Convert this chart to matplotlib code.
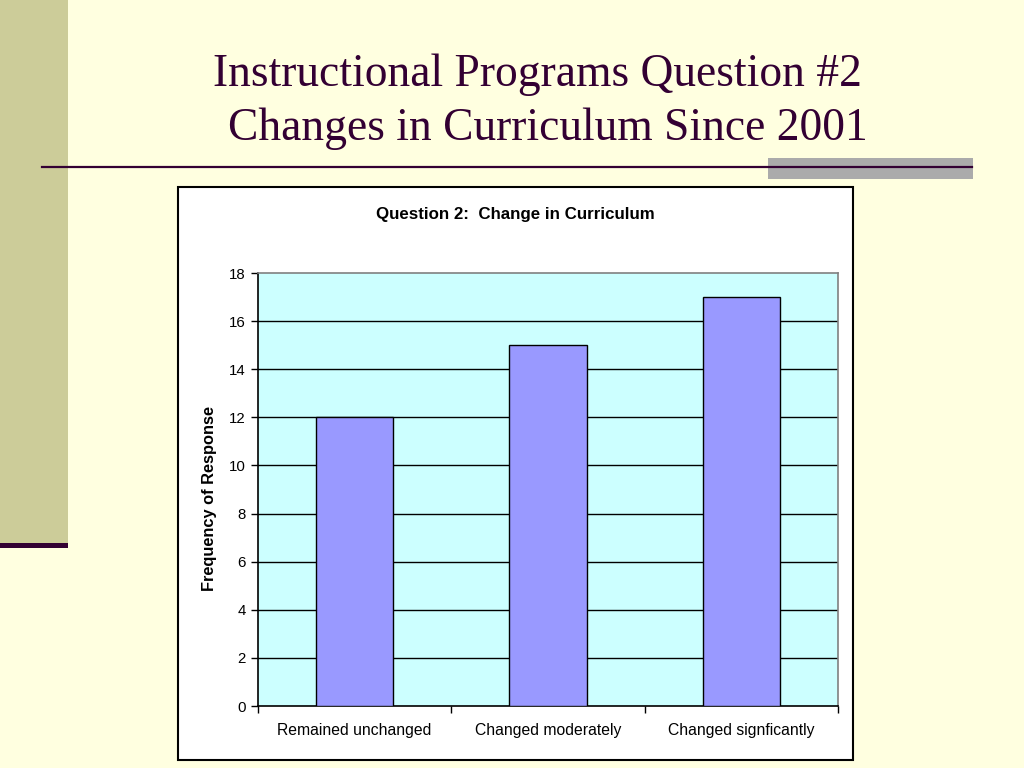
import matplotlib
matplotlib.use("Agg")
import matplotlib.pyplot as plt
from matplotlib.patches import Rectangle
from matplotlib.lines import Line2D

categories = ["Remained unchanged", "Changed moderately", "Changed signficantly"]
values = [12, 15, 17]
yticks = [0, 2, 4, 6, 8, 10, 12, 14, 16, 18]

W, H = 1024, 768
fig = plt.figure(figsize=(W / 100, H / 100), dpi=100, facecolor="#FFFFE0")

def fx(px):
    return px / W

def fy(py):
    return 1 - py / H

purple = "#330033"

# left khaki strip
fig.patches.append(Rectangle((0, fy(545)), fx(68), 1 - fy(545), transform=fig.transFigure,
                             facecolor="#CCCC99", edgecolor="none", zorder=0))
fig.patches.append(Rectangle((0, fy(548)), fx(68), fy(543) - fy(548), transform=fig.transFigure,
                             facecolor=purple, edgecolor="none", zorder=1))
# gray band on right and horizontal rule
fig.patches.append(Rectangle((fx(768), fy(179)), fx(973) - fx(768), fy(158) - fy(179),
                             transform=fig.transFigure, facecolor="#ABABAB", edgecolor="none", zorder=1))
fig.lines.append(Line2D([fx(42), fx(972)], [fy(166.5), fy(166.5)], transform=fig.transFigure,
                        color=purple, lw=1.6, zorder=2))

# slide title
fig.text(fx(537), fy(86), "Instructional Programs Question #2", ha="center", va="baseline",
         family="Liberation Serif", fontsize=32.8, color=purple)
fig.text(fx(548), fy(140), "Changes in Curriculum Since 2001", ha="center", va="baseline",
         family="Liberation Serif", fontsize=32.8, color=purple)

# chart box
fig.patches.append(Rectangle((fx(178), fy(760)), fx(853) - fx(178), fy(187) - fy(760),
                             transform=fig.transFigure, facecolor="white", edgecolor="black",
                             lw=1.5, zorder=1))

ax = fig.add_axes([fx(258), fy(706), fx(838) - fx(258), fy(273) - fy(706)])
ax.set_facecolor("#CCFFFF")
ax.set_zorder(3)
x = list(range(len(categories)))
ax.bar(x, values, width=0.4, color="#9999FF", edgecolor="black", linewidth=1, zorder=3)
ax.set_xlim(-0.5, len(categories) - 0.5)
ax.set_ylim(0, 18)
ax.set_yticks(yticks)
ax.set_yticklabels([str(v) for v in yticks], family="Liberation Sans", fontsize=10.8)
ax.set_xticks(x)
ax.set_xticklabels(categories, family="Liberation Sans", fontsize=11.3)
ax.tick_params(axis="x", which="major", length=0, pad=12)
ax.set_xticks([i - 0.5 for i in range(len(categories) + 1)], minor=True)
ax.tick_params(axis="x", which="minor", length=5, width=1, direction="out", color="black")
ax.tick_params(axis="y", length=5, width=1, direction="out", pad=4)
for v in yticks[1:-1]:
    ax.axhline(v, color="black", lw=1, zorder=2)
ax.spines["left"].set_color("black")
ax.spines["bottom"].set_color("black")
ax.spines["top"].set_color("#808080")
ax.spines["right"].set_color("#808080")
for s in ax.spines.values():
    s.set_linewidth(1.2)
ax.set_ylabel("Frequency of Response", family="Liberation Sans", fontsize=11.8,
              fontweight="bold")
ax.yaxis.set_label_coords(-0.071, 0.48)

fig.text(fx(515), fy(215), "Question 2:  Change in Curriculum", ha="center", va="center",
         family="Liberation Sans", fontsize=12.2, fontweight="bold", zorder=5)

fig.savefig("out.png", dpi=100, facecolor=fig.get_facecolor())
